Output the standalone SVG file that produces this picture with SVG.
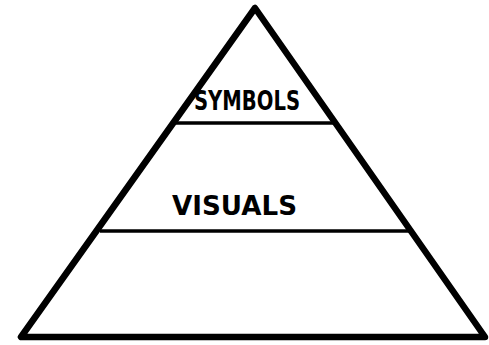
<svg xmlns="http://www.w3.org/2000/svg" width="489" height="345" viewBox="0 0 489 345">
<style>
.edge{fill:none;stroke:#000;stroke-width:6.5;stroke-linejoin:round}
.div{stroke:#000;stroke-width:3.5;fill:none}
.lbl{font-family:"DejaVu Sans",sans-serif;font-weight:bold;fill:#000}
</style>
<rect width="489" height="345" fill="#fff"/>
<g id="pyramid">
<polygon class="edge" points="255,8 21,337 485,337"/>
</g>
<g id="connectors">
<line class="div" x1="176" y1="123" x2="334" y2="123"/>
<line class="div" x1="100" y1="231" x2="410" y2="231"/>
</g>
<g id="symbols">
<text class="lbl" x="194" y="110" font-size="26" textLength="106" lengthAdjust="spacingAndGlyphs">SYMBOLS</text>
</g>
<g id="visuals">
<text class="lbl" x="172" y="215" font-size="27" textLength="125" lengthAdjust="spacingAndGlyphs">VISUALS</text>
</g>
</svg>
